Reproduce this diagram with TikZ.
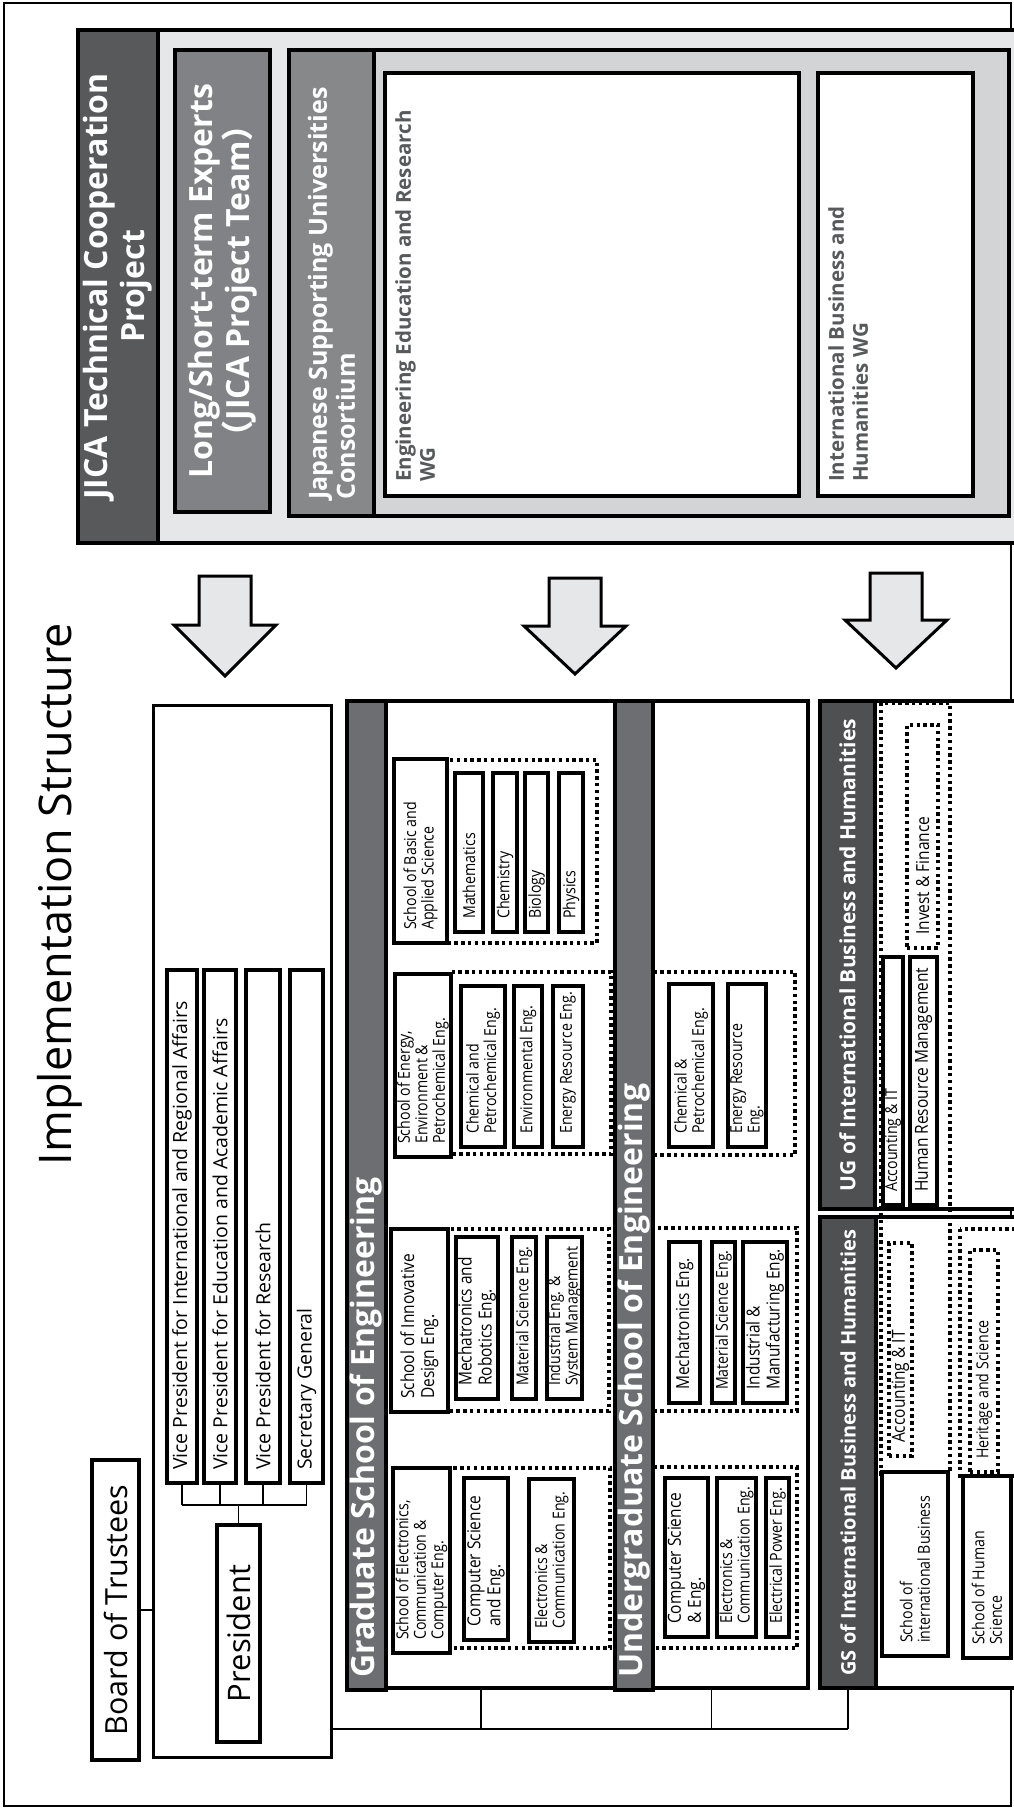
\documentclass[tikz,border=0pt]{standalone}
\usepackage{fontspec}
\setmainfont{Open Sans}
\newfontfamily\condfont[FakeStretch=0.86]{Open Sans}
\newfontfamily\cjkfont{Noto Sans CJK JP}
\usepackage{xcolor}
\usepackage{tikz}
\usetikzlibrary{calc,positioning}
\definecolor{jicadark}{HTML}{58595B}
\definecolor{ibdark}{HTML}{4F5052}
\definecolor{enghead}{HTML}{6D6E71}
\definecolor{midgray}{HTML}{808285}
\definecolor{conshead}{HTML}{87888A}
\definecolor{panel}{HTML}{E6E7E8}
\definecolor{panelin}{HTML}{D3D4D5}
\definecolor{wgtext}{HTML}{58595B}

\newcommand{\fsm}{\condfont\fontsize{16.5}{17.5}\selectfont}
\newcommand{\fmd}{\condfont\fontsize{18}{20}\selectfont}
\newcommand{\fvp}{\fontsize{19.5}{22}\selectfont}
\newcommand{\fhead}{\bfseries\fontsize{32}{37}\selectfont}

\tikzset{
  solidbox/.style={draw, line width=3.5pt, fill=white, inner sep=0pt},
  dotbox/.style={draw, line width=3.2pt, dash pattern=on 3.4pt off 3.4pt, inner sep=0pt},
  lbl/.style={rotate=90, anchor=west, align=left, inner sep=0pt},
  conn/.style={line width=1.3pt},
}
% box from corner (x1,y1) to (x2,y2), image pixels
\newcommand{\rbox}[6]{\node[inner sep=0pt, #1, minimum width={(#5-#3)*1pt}, minimum height={(#6-#4)*1pt}] (#2) at ({(#3+#5)/2},{(#4+#6)/2}) {};}
% box with text read upwards from its lower end
\newcommand{\unitbox}[8]{%
  \rbox{#1}{#3}{#4}{#5}{#6}{#7}
  \node[lbl, font=#2] (#3-t) at ({(#4+#6)/2},{#7-13}) {#8};}

\begin{document}
\begin{tikzpicture}[x=1pt,y=-1pt]
  \useasboundingbox (0,0) rectangle (1014,1809);
  \draw[line width=1.5pt] (4,3) rectangle (1011,1806);

  \node[rotate=90, font=\fontsize{45}{50}\selectfont] (title) at (60,894) {Implementation Structure};

  % JICA side
  \rbox{draw, line width=3.5pt, fill=panel}{jicapanel}{78}{30}{1040}{543}
  \rbox{draw, line width=3.5pt, fill=jicadark}{jica}{78}{30}{158}{543}
  \node[rotate=90, align=center, text=white, font=\fhead] (jica-t) at (jica) {JICA Technical Cooperation\\Project};
  \rbox{draw, line width=3.5pt, fill=midgray}{expert}{175}{50}{270}{512}
  \node[rotate=90, align=center, text=white, font=\fhead] (expert-t) at (expert) {Long/Short-term Experts\\{\cjkfont （}JICA Project Team{\cjkfont ）}};
  \rbox{draw, line width=3.5pt, fill=panelin}{cons}{289}{50}{1009}{516}
  \rbox{draw, line width=3.5pt, fill=conshead}{conshd}{289}{50}{374}{516}
  \node[lbl, text=white, font=\bfseries\fontsize{25}{28}\selectfont] (cons-t) at (331.5,500) {Japanese Supporting Universities\\Consortium};
  \rbox{solidbox}{engwg}{385}{73}{799}{496}
  \node[lbl, anchor=north west, text=wgtext, font=\bfseries\fontsize{20.5}{24}\selectfont] (engwg-t) at (395,482) {Engineering Education and Research\\WG};
  \rbox{solidbox}{ibwg}{818}{73}{973}{496}
  \node[lbl, anchor=north west, text=wgtext, font=\bfseries\fontsize{20.5}{24}\selectfont] (ibwg-t) at (828,482) {International Business and\\Humanities WG};

  % block arrows
  \foreach \ax/\at/\ab/\ap in {225/576/625/676, 575/578/626/674, 896/573/620/668}
    \draw[line width=3pt, fill=panel] (\ax-26,\at) -- (\ax+26,\at) -- (\ax+26,\ab) -- (\ax+51,\ab) -- (\ax,\ap) -- (\ax-51,\ab) -- (\ax-26,\ab) -- cycle;

  % administration
  \rbox{draw, line width=3pt, fill=white}{admin}{153}{705}{331}{1757}
  \rbox{draw, line width=3.5pt, fill=white}{board}{92}{1460}{139}{1760}
  \node[rotate=90, font=\fontsize{30.5}{34}\selectfont] (board-t) at (board) {Board of Trustees};
  \rbox{solidbox}{pres}{217}{1525}{260}{1742}
  \node[rotate=90, font=\fontsize{31}{34}\selectfont] (pres-t) at (pres) {President};
  \foreach \nm/\xa/\xb/\txt in {vp1/167/197/{Vice President for International and Regional Affairs},
      vp2/204/236/{Vice President for Education and Academic Affairs},
      vp3/246/280/{Vice President for Research}, vp4/290/323/{Secretary General}}
    {\unitbox{solidbox}{\fvp}{\nm}{\xa}{970}{\xb}{1483}{\txt}}
  \coordinate (topbus) at (238.5,1505);
  \draw[conn] (pres.north) -- (topbus);
  \draw[conn] (vp1.south |- topbus) -- (vp4.south |- topbus);
  \foreach \nm in {vp1,vp2,vp3,vp4} \draw[conn] (\nm.south) -- (\nm.south |- topbus);
  \draw[conn] (board.east) -- (board.east -| admin.west);

  % graduate school of engineering
  \rbox{draw, line width=3.5pt, fill=white}{gse}{347}{701}{615}{1688}
  \rbox{draw, line width=3.5pt, fill=enghead}{gsehd}{347}{701}{386}{1690}
  \node[lbl, text=white, font=\fhead] (gse-t) at (366.5,1678) {Graduate School of Engineering};
  \draw[dotbox] (450,1468) rectangle (610,1648);
  \draw[dotbox] (448,1229) rectangle (609,1411);
  \draw[dotbox] (451,972) rectangle (611,1154);
  \draw[dotbox] (447,760) rectangle (597,943);
  \unitbox{solidbox}{\fsm}{gsEC}{393}{1468}{450}{1653}{School of Electronics,\\Communication \&\\Computer Eng.}
  \unitbox{solidbox}{\fmd}{gsCS}{464}{1478}{508}{1640}{Computer Science\\and Eng.}
  \unitbox{solidbox}{\fsm}{gsECE}{529}{1479}{574}{1642}{Electronics \&\\Communication Eng.}
  \unitbox{solidbox}{\fmd}{gsID}{391}{1229}{448}{1412}{School of Innovative\\Design Eng.}
  \unitbox{solidbox}{\fmd}{gsMR}{456}{1237}{498}{1399}{Mechatronics and\\Robotics Eng.}
  \unitbox{solidbox}{\fsm}{gsMS}{512}{1237}{536}{1399}{Material Science Eng.}
  \unitbox{solidbox}{\fsm}{gsIS}{547}{1237}{582}{1399}{Industrial Eng. \&\\System Management}
  \unitbox{solidbox}{\fsm}{gsEN}{395}{974}{451}{1157}{School of Energy,\\Environment \&\\Petrochemical Eng.}
  \unitbox{solidbox}{\fsm}{gsCP}{461}{986}{505}{1147}{Chemical and\\Petrochemical Eng.}
  \unitbox{solidbox}{\fsm}{gsEV}{514}{986}{542}{1147}{Environmental Eng.}
  \unitbox{solidbox}{\fsm}{gsER}{553}{986}{583}{1147}{Energy Resource Eng.}
  \unitbox{solidbox}{\fsm}{gsBA}{394}{759}{447}{943}{School of Basic and\\Applied Science}
  \foreach \nm/\xa/\xb/\txt in {gsMa/455/483/Mathematics, gsCh/493/517/Chemistry, gsBi/525/548/Biology, gsPh/559/583/Physics}
    {\unitbox{solidbox}{\fsm}{\nm}{\xa}{773}{\xb}{932}{\txt}}

  % undergraduate school of engineering
  \rbox{draw, line width=3.5pt, fill=white}{use}{615}{701}{808}{1688}
  \draw[dotbox] (653,972) rectangle (795,1155);
  \draw[dotbox] (653,1228) rectangle (797,1411);
  \draw[dotbox] (653,1467) rectangle (797,1648);
  \rbox{draw, line width=3.5pt, fill=enghead}{usehd}{615}{701}{653}{1690}
  \node[lbl, text=white, font=\fhead] (use-t) at (634,1678) {Undergraduate School of Engineering};
  \unitbox{solidbox}{\fsm}{ugCP}{669}{984}{713}{1147}{Chemical \&\\Petrochemical Eng.}
  \unitbox{solidbox}{\fsm}{ugER}{728}{984}{766}{1147}{Energy Resource\\Eng.}
  \unitbox{solidbox}{\fmd}{ugMe}{669}{1242}{700}{1403}{Mechatronics Eng.}
  \unitbox{solidbox}{\fsm}{ugMS}{712}{1242}{735}{1403}{Material Science Eng.}
  \unitbox{solidbox}{\fmd}{ugIM}{743}{1242}{787}{1403}{Industrial \&\\Manufacturing Eng.}
  \unitbox{solidbox}{\fmd}{ugCS}{665}{1478}{708}{1637}{Computer Science\\\& Eng.}
  \unitbox{solidbox}{\fsm}{ugECE}{717}{1478}{756}{1637}{Electronics \&\\Communication Eng.}
  \unitbox{solidbox}{\fsm}{ugEP}{766}{1478}{789}{1637}{Electrical Power Eng.}

  % international business and humanities
  \rbox{draw, line width=3.5pt, fill=white}{ugib}{875}{701}{1040}{1209}
  \rbox{draw, line width=3.5pt, fill=ibdark}{ugibhd}{820}{701}{875}{1209}
  \node[rotate=90, text=white, font=\bfseries\fontsize{21}{24}\selectfont] (ugib-t) at (ugibhd) {UG of International Business and Humanities};
  \rbox{draw, line width=3.5pt, fill=white}{gsib}{876}{1217}{1040}{1688}
  \rbox{draw, line width=3.5pt, fill=ibdark}{gsibhd}{820}{1217}{876}{1688}
  \node[rotate=90, text=white, font=\bfseries\fontsize{20}{24}\selectfont] (gsib-t) at (gsibhd) {GS of International Business and Humanities};
  \draw[dotbox] (881,703) rectangle (950,1474);
  \draw[dotbox] (960,1229) rectangle (1040,1476);
  \unitbox{solidbox}{\fsm}{ibAcc}{883}{957}{903}{1205}{Accounting \& IT}
  \unitbox{solidbox}{\fmd}{ibHR}{910}{957}{937}{1205}{Human Resource Management}
  \unitbox{dotbox}{\fmd}{ibIF}{907}{725}{938}{948}{Invest \& Finance}
  \unitbox{dotbox}{\fmd}{gbAcc}{889}{1243}{912}{1456}{Accounting \& IT}
  \unitbox{solidbox}{\fsm}{gbIB}{882}{1472}{948}{1656}{School of\\international Business}
  \unitbox{dotbox}{\fsm}{gbHS}{970}{1250}{998}{1472}{Heritage and Science}
  \unitbox{solidbox}{\fsm}{gbHu}{963}{1476}{1011}{1658}{School of Human\\Science}

  % links from the administration to the schools
  \coordinate (lowbus) at (481,1729);
  \draw[conn] (gse.south) -- (gse.south |- lowbus);
  \draw[conn] (use.south) -- (use.south |- lowbus);
  \draw[conn] (gsibhd.south) -- (gsibhd.south |- lowbus);
  \draw[conn] (admin.east |- lowbus) -- (gsibhd.south |- lowbus);
\end{tikzpicture}
\end{document}
